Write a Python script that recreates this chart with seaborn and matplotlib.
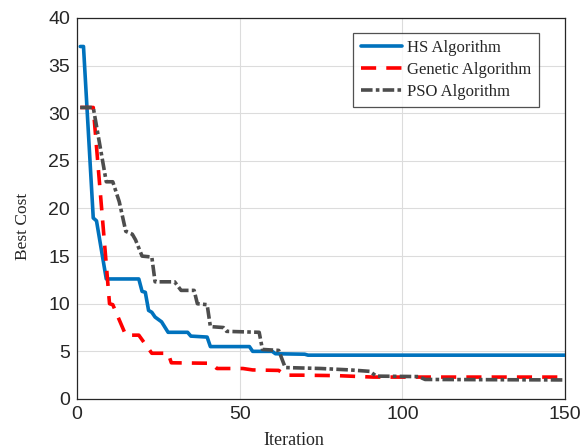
import numpy as np
import pandas as pd
import matplotlib
matplotlib.use("Agg")
import matplotlib.pyplot as plt
import seaborn as sns

# ---- data (corner points of each convergence curve) ----
hs_iter = [1, 2, 5, 6, 9, 19, 20, 21, 22, 23, 24, 26, 28, 34, 35, 40, 41, 53, 54, 60, 61, 70, 71, 150]
hs_cost = [37.0, 37.0, 19.0, 18.7, 12.6, 12.6, 11.3, 11.2, 9.3, 9.1, 8.6, 8.1, 7.0, 7.0, 6.6, 6.5, 5.5, 5.5, 5.0, 5.0, 4.75, 4.7, 4.6, 4.6]

ga_iter = [1, 5, 10, 11, 15, 19, 23, 28, 29, 41, 42, 43, 51, 54, 62, 64, 69, 80, 91, 150]
ga_cost = [30.6, 30.6, 10.0, 9.9, 6.7, 6.7, 4.8, 4.8, 3.8, 3.75, 3.5, 3.2, 3.2, 3.05, 3.0, 2.5, 2.5, 2.45, 2.3, 2.3]

pso_iter = [1, 5, 9, 11, 13, 15, 17, 18, 20, 23, 24, 30, 32, 36, 37, 40, 41, 45, 46, 56, 57, 62, 64, 75, 84, 90, 92, 105, 107, 150]
pso_cost = [30.6, 30.6, 22.8, 22.8, 20.7, 17.6, 17.3, 16.7, 15.0, 14.9, 12.3, 12.3, 11.4, 11.4, 10.0, 9.9, 7.6, 7.5, 7.1, 7.0, 5.2, 5.1, 3.3, 3.2, 3.05, 2.9, 2.4, 2.35, 2.05, 2.0]

labels = ["HS Algorithm", "Genetic Algorithm", "PSO Algorithm"]
x_ticks = [0, 50, 100, 150]
y_ticks = [0, 5, 10, 15, 20, 25, 30, 35, 40]

sns.set_theme(style="white")
plt.rcParams["font.family"] = ["Liberation Sans", "DejaVu Sans"]

fig = plt.figure(figsize=(5.81, 4.48), dpi=100)
ax = fig.add_axes([0.1325, 0.1094, 0.84, 0.8506])

series = [
    (hs_iter, hs_cost, labels[0], "#0072BD", "-"),
    (ga_iter, ga_cost, labels[1], "#FF0000", (0, (4.2, 2.8))),
    (pso_iter, pso_cost, labels[2], "#4D4D4D", (0, (3.2, 0.9, 1.0, 0.9))),
]
for xs, ys, lab, col, ls in series:
    df = pd.DataFrame({"Iteration": xs, "Best Cost": ys})
    sns.lineplot(data=df, x="Iteration", y="Best Cost", ax=ax, color=col,
                 linewidth=2.6, linestyle=ls, label=lab, sort=False,
                 estimator=None, zorder=3)

ax.set_xlim(0, 150)
ax.set_ylim(0, 40)
ax.set_xticks(x_ticks)
ax.set_yticks(y_ticks)
ax.grid(True, color="#DCDCDC", linewidth=0.8)
ax.set_axisbelow(True)
for s in ax.spines.values():
    s.set_visible(True)
    s.set_color("#262626")
    s.set_linewidth(0.9)
ax.tick_params(axis="both", direction="in", length=4, width=0.8, color="#262626",
               labelsize=14, labelcolor="#262626", pad=5)

serif = ["Liberation Serif", "DejaVu Serif"]
ax.set_xlabel("Iteration", family=serif, fontsize=13)
ax.set_ylabel("Best Cost", family=serif, fontsize=12.5)
ax.xaxis.set_label_coords(0.444, -0.086)
ax.yaxis.set_label_coords(-0.094, 0.454)

leg = ax.legend(loc="upper right", bbox_to_anchor=(0.947, 0.961), borderaxespad=0.0,
                prop={"family": serif, "size": 12},
                frameon=True, fancybox=False, edgecolor="#262626",
                handlelength=2.5, borderpad=0.45, labelspacing=0.35, handletextpad=0.3)
leg.get_frame().set_linewidth(0.9)

fig.savefig("out.png", dpi=100)
